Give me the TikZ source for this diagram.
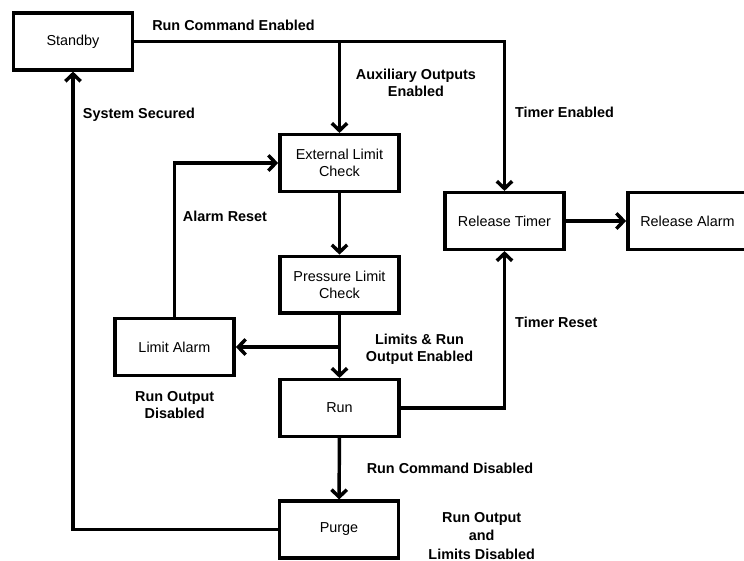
\documentclass[tikz,border=0pt]{standalone}
\usepackage{fontspec}
\setmainfont{Liberation Sans}
\usetikzlibrary{arrows.meta}
\begin{document}
\begin{tikzpicture}[x=0.75pt,y=-0.75pt,
  box/.style={draw, line width=2.6pt, minimum width=89.5pt, minimum height=42.5pt, align=center, inner sep=2pt, font=\fontsize{10.8}{13.2}\selectfont},
  lbl/.style={font=\bfseries\fontsize{10.8}{12.6}\selectfont, align=center, inner sep=0pt},
  conn/.style={line width=2.6pt, -{Straight Barb[length=5.5pt,width=11.5pt]}}]
\useasboundingbox (0,0) rectangle (744,561);
% boxes
\node[box] (standby) at (73,41.5) {Standby};
\node[box] (ext) at (339.5,163) {External Limit\\Check};
\node[box] (press) at (339.5,284.7) {Pressure Limit\\Check};
\node[box] (alarm) at (174.5,347) {Limit Alarm};
\node[box] (run) at (339.5,408) {Run};
\node[box] (purge) at (339,529.5) {Purge};
\node[box] (timer) at (504.5,221) {Release Timer};
\node[box] (relalarm) at (687.5,221) {Release Alarm};
% connectors
\draw[conn] (standby.east) -| (timer.north);
\draw[conn] (ext.north |- standby.east) -- (ext.north);
\draw[conn] (ext) -- (press);
\draw[conn] (press) -- (run);
\draw[conn] (press.south |- alarm.east) -- (alarm.east);
\draw[conn] (alarm.north) |- (ext.west);
\draw[conn] (run.east) -| (timer.south);
\draw[conn] (timer) -- (relalarm);
\draw[conn] (run) -- (purge);
\draw[conn] (purge.west) -| (standby.south);
% labels
\node[lbl] (l1) at (233.5,25) {Run Command Enabled};
\node[lbl] (l2) at (416,82.5) {Auxiliary Outputs\\Enabled};
\node[lbl] (l3) at (139,115) {System Secured};
\node[lbl] (l4) at (564.5,112.7) {Timer Enabled};
\node[lbl] (l5) at (225,216.7) {Alarm Reset};
\node[lbl] (l6) at (556.3,322.7) {Timer Reset};
\node[lbl] (l7) at (419.5,349.2) {Limits \& Run\\Output Enabled};
\node[lbl] (l8) at (174.7,405) {Run Output\\Disabled};
\node[lbl] (l9) at (450,468.8) {Run Command Disabled};
\node[lbl, font=\bfseries\fontsize{10.8}{13.8}\selectfont] (l10) at (481.7,536) {Run Output\\and\\Limits Disabled};
\end{tikzpicture}
\end{document}
